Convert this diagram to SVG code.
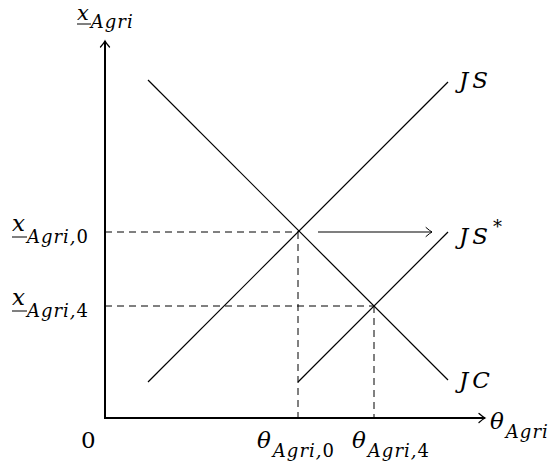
<svg xmlns="http://www.w3.org/2000/svg" width="560" height="466" viewBox="0 0 560 466">
<defs>
<marker id="ah" viewBox="-8 -6 10 12" markerWidth="10" markerHeight="12" refX="0" refY="0" orient="auto" markerUnits="userSpaceOnUse">
<path d="M -6,-4.5 Q -2,-1 0,0 Q -2,1 -6,4.5" fill="none" stroke="#000" stroke-width="1.3" stroke-linecap="round"/>
</marker>
<marker id="ahs" viewBox="-8 -6 10 12" markerWidth="10" markerHeight="12" refX="0" refY="0" orient="auto" markerUnits="userSpaceOnUse">
<path d="M -6,-4.5 Q -2,-1 0,0 Q -2,1 -6,4.5" fill="none" stroke="#000" stroke-width="1" stroke-linecap="round"/>
</marker>
</defs>
<style>
.ax{stroke:#000;stroke-width:2;fill:none}
.ln{stroke:#000;stroke-width:1.2;fill:none}
.ds{stroke:#000;stroke-width:1;fill:none;stroke-dasharray:7 5}
.ul{stroke:#000;stroke-width:1}
.t{font-family:"DejaVu Serif","Liberation Serif",serif}
.m{font-size:23px;font-style:italic}
.w{letter-spacing:4px}
.s{font-size:18px;font-style:italic;letter-spacing:1px}
.r{font-size:18px;font-style:normal;letter-spacing:0}
.n{font-size:23px}
</style>
<rect width="560" height="466" fill="#fff"/>
<g id="connectors">
<line class="ds" x1="105" y1="232" x2="298" y2="232"/>
<line class="ds" x1="298" y1="232" x2="298" y2="418"/>
<line class="ds" x1="105" y1="306" x2="374" y2="306"/>
<line class="ds" x1="374" y1="306" x2="374" y2="418"/>
<line class="ln" x1="318" y1="232" x2="432" y2="232" marker-end="url(#ahs)"/>
</g>
<g id="axes">
<line class="ax" x1="105" y1="419" x2="105" y2="41" marker-end="url(#ah)"/>
<line class="ax" x1="104" y1="418" x2="485" y2="418" marker-end="url(#ah)"/>
</g>
<g id="JS">
<line class="ln" x1="148" y1="382" x2="448" y2="82"/>
<text class="t m w" x="459" y="88">JS</text>
</g>
<g id="JSstar">
<line class="ln" x1="298" y1="382" x2="448" y2="232"/>
<text class="t m w" x="459" y="244">JS<tspan class="r" dx="1" dy="-11">*</tspan></text>
</g>
<g id="JC">
<line class="ln" x1="148" y1="80" x2="448" y2="380"/>
<text class="t m w" x="459" y="388">JC</text>
</g>
<g id="labels">
<text class="t m" x="77" y="20" style="font-size:21px">x<tspan class="s" dx="2" dy="8">Agri</tspan></text>
<line class="ul" x1="77" y1="24" x2="91" y2="24"/>
<text class="t m" x="12" y="231">x<tspan class="s" dx="2" dy="12">Agri,</tspan><tspan class="r">0</tspan></text>
<line class="ul" x1="12" y1="237" x2="27" y2="237"/>
<text class="t m" x="12" y="305">x<tspan class="s" dx="2" dy="12">Agri,</tspan><tspan class="r">4</tspan></text>
<line class="ul" x1="12" y1="311" x2="27" y2="311"/>
<text class="t n" x="81" y="448">0</text>
<text class="t m" x="257" y="448">θ<tspan class="s" dx="2" dy="9">Agri,</tspan><tspan class="r">0</tspan></text>
<text class="t m" x="352" y="448">θ<tspan class="s" dx="2" dy="9">Agri,</tspan><tspan class="r">4</tspan></text>
<text class="t m" x="490" y="429">θ<tspan class="s" dx="2" dy="9">Agri</tspan></text>
</g>
</svg>
